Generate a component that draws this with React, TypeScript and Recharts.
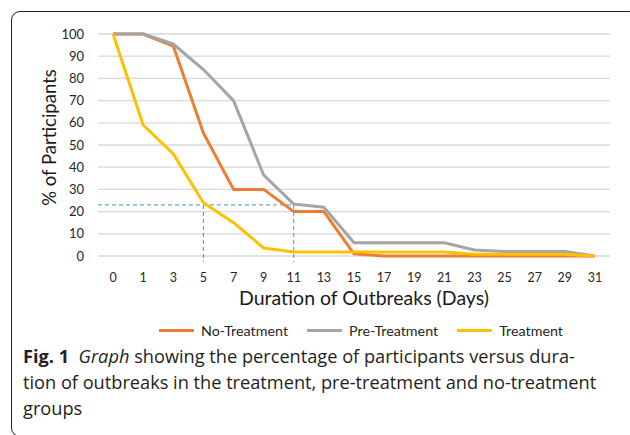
import React from 'react';
import { LineChart, Line, XAxis, YAxis, CartesianGrid, Legend, ReferenceLine, Label } from 'recharts';

const days = [0, 1, 3, 5, 7, 9, 11, 13, 15, 17, 19, 21, 23, 25, 27, 29, 31];
const noTreatment = [100, 100, 94.6, 55.4, 30, 30, 20, 20, 1, 0, 0, 0, 0, 0, 0, 0, 0];
const preTreatment = [100, 100, 95.5, 84, 70, 36.5, 23.4, 22, 6, 6, 6, 6, 2.7, 2, 2, 2, 0];
const treatment = [100, 59, 46, 24, 15, 3.6, 1.8, 1.8, 1.8, 1.8, 1.8, 1.8, 0.8, 0.8, 0.8, 0.8, 0];
const yTicks = [0, 10, 20, 30, 40, 50, 60, 70, 80, 90, 100];
const guideValue = 23;
const guideDays = [5, 11];
const seriesNames = ['No-Treatment', 'Pre-Treatment', 'Treatment'];
const seriesColors = ['#ED7D31', '#A5A5A5', '#FFC000'];

const data = days.map((d, i) => ({
  idx: i,
  day: d,
  no: noTreatment[i],
  pre: preTreatment[i],
  tr: treatment[i],
}));

const FONT = 'Lato, "Open Sans", sans-serif';
const CAPTION_FONT = '"Open Sans", Lato, sans-serif';

const renderYLabel = (props: any) => {
  const vb = props.viewBox || {};
  const cx = vb.x + 11;
  const cy = vb.y + vb.height / 2 - 7.5;
  return (
    <text x={cx} y={cy} transform={`rotate(-90, ${cx}, ${cy})`} textAnchor="middle" dominantBaseline="central" fontSize={18.5} fill="#1a1a1a" fontFamily={FONT}>
      % of Participants
    </text>
  );
};

const renderXLabel = (props: any) => {
  const vb = props.viewBox || {};
  const cx = vb.x + vb.width / 2 + 10;
  const cy = vb.y + 49;
  return (
    <text x={cx} y={cy} textAnchor="middle" fontSize={19.5} fill="#1a1a1a" fontFamily={FONT}>
      Duration of Outbreaks (Days)
    </text>
  );
};

const renderLegend = (props: any) => {
  const payload = props.payload || [];
  return (
    <div style={{ display: 'flex', alignItems: 'center', paddingLeft: 159, fontFamily: FONT, fontSize: 14.3, color: '#262626' }}>
      {payload.map((p: any, i: number) => (
        <div key={i} style={{ display: 'flex', alignItems: 'center', marginRight: 19 }}>
          <div style={{ width: 35, height: 3, background: p.color, marginRight: 7 }} />
          <span>{p.value}</span>
        </div>
      ))}
    </div>
  );
};

export default function App() {
  const i5 = days.indexOf(guideDays[0]);
  const i11 = days.indexOf(guideDays[1]);
  return (
    <div style={{ position: 'absolute', left: 0, top: 0, width: 630, height: 435, overflow: 'hidden', background: '#fff' }}>
      <div style={{ position: 'absolute', left: 11, top: 11, width: 625, height: 424, border: '1px solid #231f20', borderRadius: 9 }} />
      <div style={{ position: 'absolute', left: 0, top: 0 }}>
        <LineChart width={630} height={345} data={data} margin={{ top: 34, right: 20, left: 38, bottom: 59 }}>
          <CartesianGrid horizontal vertical={false} stroke="#d9d9d9" strokeWidth={1.3} />
          <XAxis
            type="number"
            dataKey="idx"
            domain={[-0.5, days.length - 0.5]}
            ticks={days.map((_, i) => i)}
            tickFormatter={(v: number) => String(days[v])}
            interval={0}
            axisLine={false}
            tickLine={false}
            tickMargin={11}
            height={30}
            tick={{ fontSize: 12.5, fill: '#262626', fontFamily: FONT }}
          >
            <Label content={renderXLabel} />
          </XAxis>
          <YAxis
            domain={[0, 100]}
            ticks={yTicks}
            interval={0}
            width={60}
            axisLine={false}
            tickLine={false}
            tickMargin={8}
            tick={{ fontSize: 13, fill: '#262626', fontFamily: FONT }}
          >
            <Label content={renderYLabel} />
          </YAxis>
          <ReferenceLine
            segment={[{ x: -0.5, y: guideValue }, { x: i11, y: guideValue }]}
            stroke="#4A90D9"
            strokeDasharray="4 3"
            strokeWidth={1}
            ifOverflow="visible"
          />
          <ReferenceLine
            segment={[{ x: i5, y: guideValue }, { x: i5, y: -2.7 }]}
            stroke="#4A90D9"
            strokeDasharray="4 3"
            strokeWidth={1}
            ifOverflow="visible"
          />
          <ReferenceLine
            segment={[{ x: i11, y: guideValue }, { x: i11, y: -2.7 }]}
            stroke="#4A90D9"
            strokeDasharray="4 3"
            strokeWidth={1}
            ifOverflow="visible"
          />
          <Line dataKey="no" name={seriesNames[0]} stroke={seriesColors[0]} strokeWidth={3} dot={false} isAnimationActive={false} strokeLinejoin="round" />
          <Line dataKey="pre" name={seriesNames[1]} stroke={seriesColors[1]} strokeWidth={3} dot={false} isAnimationActive={false} strokeLinejoin="round" />
          <Line dataKey="tr" name={seriesNames[2]} stroke={seriesColors[2]} strokeWidth={3} dot={false} isAnimationActive={false} strokeLinejoin="round" />
          <Legend verticalAlign="middle" align="center" layout="horizontal" content={renderLegend} wrapperStyle={{ top: 322, left: 0, width: 630 }} />
        </LineChart>
      </div>
      <div style={{ position: 'absolute', left: 23, top: 343, fontFamily: CAPTION_FONT, fontSize: 18.2, lineHeight: '26px', color: '#231f20', whiteSpace: 'nowrap' }}>
        <b>Fig. 1</b>&nbsp;&nbsp;<i>Graph</i> showing the percentage of participants versus dura-
        <br />
        tion of outbreaks in the treatment, pre-treatment and no-treatment
        <br />
        groups
      </div>
    </div>
  );
}
